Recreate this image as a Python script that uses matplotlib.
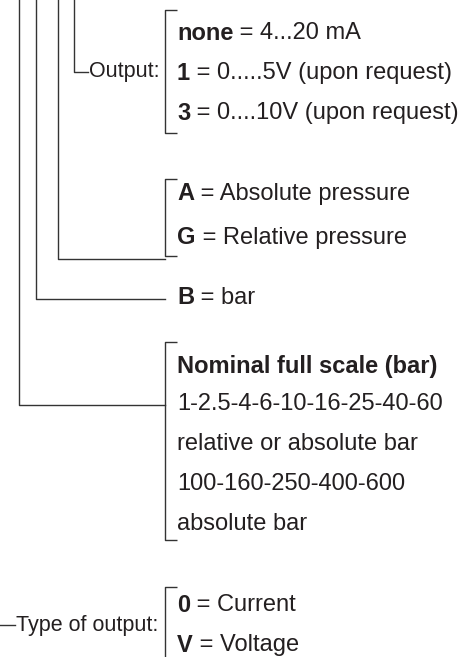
import matplotlib.pyplot as plt

# option groups: (bold code, rest of text)
output_opts = [("none", " = 4...20 mA"), ("1", " = 0.....5V (upon request)"), ("3", " = 0....10V (upon request)")]
pressure_opts = [("A", " = Absolute pressure"), ("G", " = Relative pressure")]
unit_opt = ("B", " = bar")
scale_title = "Nominal full scale (bar)"
scale_lines = ["1-2.5-4-6-10-16-25-40-60", "relative or absolute bar", "100-160-250-400-600", "absolute bar"]
type_opts = [("0", " = Current"), ("V", " = Voltage")]

W, H = 476, 657
fig = plt.figure(figsize=(W / 100, H / 100), dpi=100)
ax = fig.add_axes([0, 0, 1, 1])
ax.set_xlim(0, W)
ax.set_ylim(H, 0)
ax.axis("off")

lc = "#333333"
tc = "#231f20"
fs = 17
fs_lab = 15.5
fam = "Liberation Sans"
lw = 1.0


def code_text(x, y, code, rest):
    t = ax.text(x, y, code, fontsize=fs, fontweight="bold", family=fam, color=tc, va="center")
    ax.annotate(rest, xycoords=t, xy=(1, 0.5), va="center", ha="left",
                fontsize=fs, family=fam, color=tc)


def bracket(x, y0, y1, tick=12):
    ax.plot([x + tick, x, x, x + tick], [y0, y0, y1, y1], color=lc, lw=lw, solid_capstyle="butt")


tx = 177
bx = 165

# Output group
ax.plot([74, 74, 88], [0, 72, 72], color=lc, lw=lw)
ax.text(89, 72, "Output:", fontsize=fs_lab, family=fam, color=tc, va="center")
bracket(bx, 10, 133)
for i, (c, r) in enumerate(output_opts):
    code_text(tx, 33 + i * 40, c, r)

# pressure type
ax.plot([58, 58, bx], [0, 259, 259], color=lc, lw=lw)
bracket(bx, 179, 256)
for i, (c, r) in enumerate(pressure_opts):
    code_text(tx, 194 + i * 44, c, r)

# unit
ax.plot([36, 36, bx], [0, 299, 299], color=lc, lw=lw)
code_text(tx, 298, *unit_opt)

# full scale
ax.plot([19, 19, bx], [0, 405, 405], color=lc, lw=lw)
bracket(bx, 342, 540)
ax.text(tx, 366, scale_title, fontsize=fs, fontweight="bold", family=fam, color=tc, va="center")
for i, s in enumerate(scale_lines):
    ax.text(tx, 404 + i * 40, s, fontsize=fs, family=fam, color=tc, va="center")

# type of output
ax.plot([0, 15], [625, 625], color=lc, lw=lw)
ax.text(16, 625, "Type of output:", fontsize=fs_lab, family=fam, color=tc, va="center")
bracket(bx, 587, 680)
for i, (c, r) in enumerate(type_opts):
    code_text(tx, 605 + i * 40, c, r)

fig.savefig("out.png", dpi=100)
